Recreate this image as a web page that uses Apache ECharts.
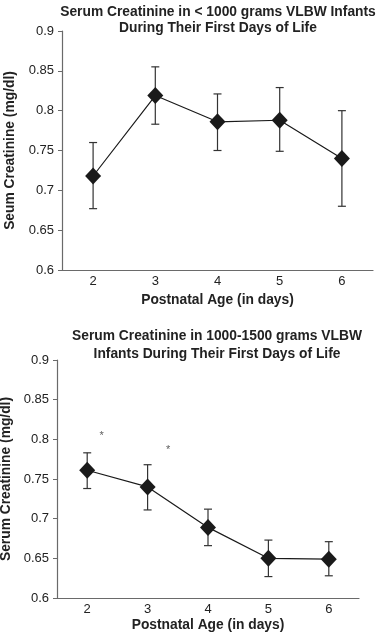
<!DOCTYPE html>
<html>
<head>
<meta charset="utf-8">
<script src="https://cdn.jsdelivr.net/npm/echarts@6/dist/echarts.min.js"></script>
<style>
  html, body { margin: 0; padding: 0; background: #fff; }
  #chart { width: 376px; height: 637px; }
</style>
</head>
<body>
<div id="chart"></div>
<script>
// data
const days = ['2', '3', '4', '5', '6'];

// < 1000 g
const meanSmall = [0.718, 0.819, 0.786, 0.788, 0.740];
const upperSmall = [0.760, 0.855, 0.821, 0.829, 0.800];
const lowerSmall = [0.677, 0.783, 0.750, 0.749, 0.680];

// 1000-1500 g
const meanLarge = [0.761, 0.740, 0.689, 0.650, 0.649];
const upperLarge = [0.783, 0.768, 0.712, 0.673, 0.671];
const lowerLarge = [0.738, 0.711, 0.666, 0.627, 0.628];

// significance stars (day position, value)
const starsLarge = [[2.24, 0.808], [3.34, 0.791]];

const yTicks = { min: 0.6, max: 0.9, interval: 0.05 };

const axisGray = '#6a6a6a';
const inkColor = '#1a1a1a';
const fontFamily = 'Liberation Sans, Arial, sans-serif';

const chart = echarts.init(document.getElementById('chart'));

// error bars drawn via custom series
const errorBarSeries = (upper, lower, idx) => ({
    type: 'custom',
    xAxisIndex: idx,
    yAxisIndex: idx,
    silent: true,
    z: 1,
    data: days.map((d, i) => [i, lower[i], upper[i]]),
    renderItem: (params, api) => {
        const lo = api.coord([api.value(0), api.value(1)]);
        const hi = api.coord([api.value(0), api.value(2)]);
        const w = 4;
        const style = { stroke: '#333', lineWidth: 1.2 };
        return {
            type: 'group',
            children: [
                { type: 'line', shape: { x1: hi[0], y1: hi[1], x2: lo[0], y2: lo[1] }, style },
                { type: 'line', shape: { x1: hi[0] - w, y1: hi[1], x2: hi[0] + w, y2: hi[1] }, style },
                { type: 'line', shape: { x1: lo[0] - w, y1: lo[1], x2: lo[0] + w, y2: lo[1] }, style }
            ]
        };
    }
});

const meanSeries = (values, idx) => ({
    type: 'line',
    xAxisIndex: idx,
    yAxisIndex: idx,
    data: values,
    symbol: 'diamond',
    symbolSize: [16, 17],
    itemStyle: { color: inkColor },
    lineStyle: { color: inkColor, width: 1.2 },
    z: 3,
    silent: true
});

const catAxis = (gridIndex, nameGap) => ({
    type: 'category',
    gridIndex,
    data: days,
    boundaryGap: true,
    name: 'Postnatal Age (in days)',
    nameLocation: 'middle',
    nameGap,
    nameTextStyle: { fontFamily, fontSize: 13.8, fontWeight: 'bold', color: '#222' },
    axisLine: { lineStyle: { color: axisGray, width: 1.2 } },
    axisTick: { length: 4, lineStyle: { color: axisGray } },
    axisLabel: { fontFamily, fontSize: 13, color: '#222', margin: 5 },
    splitLine: { show: false }
});

const valAxis = (gridIndex, name, nameGap) => ({
    type: 'value',
    gridIndex,
    min: yTicks.min,
    max: yTicks.max,
    interval: yTicks.interval,
    name,
    nameLocation: 'middle',
    nameGap,
    nameTextStyle: { fontFamily, fontSize: 13.8, fontWeight: 'bold', color: '#222' },
    axisLine: { show: true, lineStyle: { color: axisGray, width: 1.2 } },
    axisTick: { show: true, length: 4, lineStyle: { color: axisGray } },
    axisLabel: { fontFamily, fontSize: 13, color: '#222', margin: 8 },
    splitLine: { show: false }
});

const option = {
    backgroundColor: '#fff',
    animation: false,
    title: [
        {
            text: 'Serum Creatinine in < 1000 grams VLBW Infants\nDuring Their First Days of Life',
            left: 213, top: -1, textAlign: 'center',
            textStyle: { fontFamily, fontSize: 13.8, fontWeight: 'bold', color: '#222', lineHeight: 16 }
        },
        {
            text: 'Serum Creatinine in 1000-1500 grams VLBW\nInfants During Their First Days of Life',
            left: 212, top: 322, textAlign: 'center',
            textStyle: { fontFamily, fontSize: 13.8, fontWeight: 'bold', color: '#222', lineHeight: 18 }
        }
    ],
    grid: [
        { left: 62, top: 31, width: 311, height: 239, outerBoundsMode: 'none' },
        { left: 57, top: 360, width: 302, height: 238, outerBoundsMode: 'none' }
    ],
    xAxis: [
        catAxis(0, 23),
        catAxis(1, 20),
        // hidden value axis for placing the stars between days
        { type: 'value', gridIndex: 1, min: 1.5, max: 6.5, show: false }
    ],
    yAxis: [
        valAxis(0, 'Seum Creatinine (mg/dl)', 45),
        valAxis(1, 'Serum Creatinine (mg/dl)', 39)
    ],
    series: [
        errorBarSeries(upperSmall, lowerSmall, 0),
        meanSeries(meanSmall, 0),
        errorBarSeries(upperLarge, lowerLarge, 1),
        meanSeries(meanLarge, 1),
        {
            type: 'scatter',
            xAxisIndex: 2,
            yAxisIndex: 1,
            data: starsLarge,
            symbolSize: 0,
            silent: true,
            label: {
                show: true,
                position: 'inside',
                formatter: '*',
                fontFamily,
                fontSize: 11,
                color: '#333',
                offset: [0, 3]
            }
        }
    ]
};

chart.setOption(option);
</script>
</body>
</html>
